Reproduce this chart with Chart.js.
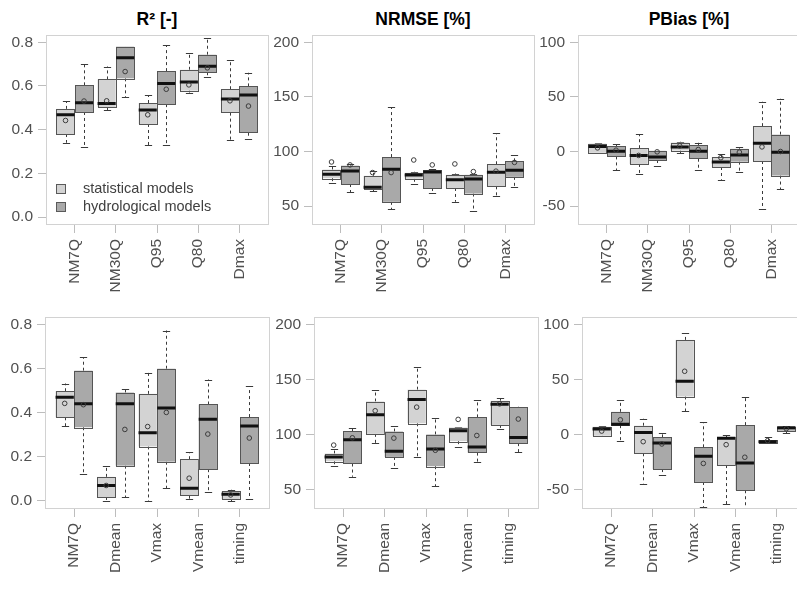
<!DOCTYPE html>
<html lang="en">
<head>
<meta charset="UTF-8" />
<title>Model performance - boxplots</title>
<script src="https://cdn.jsdelivr.net/npm/chart.js@4"></script>
<style>
  body {
    margin: 0;
    background: #ffffff;
    width: 797px;
    height: 596px;
    overflow: hidden;
    position: relative;
    font-family: "Liberation Sans", Arial, sans-serif;
  }
  .panel { position: absolute; }
  .title {
    position: absolute;
    width: 222px;
    text-align: center;
    font-weight: bold;
    font-size: 17.5px;
    color: #000;
  }
  .legend-row {
    position: absolute;
    font-size: 14.5px;
    color: #404040;
    white-space: nowrap;
  }
  .legend-row .sw {
    position: absolute;
    left: 0;
    top: 4px;
    width: 8px;
    height: 8px;
    border: 1px solid #5a5a5a;
  }
  .legend-row .txt { position: absolute; left: 27px; top: 0; }
</style>
</head>
<body>

<div class="title" style="left:46px; top:9px;">R² [-]</div>
<div class="title" style="left:312px; top:9px;">NRMSE [%]</div>
<div class="title" style="left:578px; top:9px;">PBias [%]</div>

<div id="panels"></div>

<script>
  // categories
  const topCategories = ["NM7Q", "NM30Q", "Q95", "Q80", "Dmax"];
  const bottomCategories = ["NM7Q", "Dmean", "Vmax", "Vmean", "timing"];
  const seriesNames = ["statistical models", "hydrological models"];

  // y tick labels
  const r2Ticks = [0.0, 0.2, 0.4, 0.6, 0.8];
  const nrmseTicks = [50, 100, 150, 200];
  const pbiasTicks = [-50, 0, 50, 100];

  // every box: [lower whisker, Q1, median, Q3, upper whisker]
  const r2TopStat = [[0.34, 0.38, 0.468, 0.495, 0.531], [0.489, 0.504, 0.52, 0.63, 0.689], [0.328, 0.426, 0.49, 0.522, 0.559], [0.57, 0.579, 0.618, 0.674, 0.749], [0.352, 0.478, 0.54, 0.585, 0.72]];
  const r2TopHydro = [[0.322, 0.481, 0.523, 0.603, 0.699], [0.55, 0.635, 0.729, 0.78, 0.78], [0.328, 0.517, 0.611, 0.668, 0.788], [0.639, 0.663, 0.69, 0.743, 0.82], [0.359, 0.386, 0.559, 0.598, 0.66]];
  const r2TopStatMean = [0.442, 0.532, 0.468, 0.605, 0.532];
  const r2TopHydroMean = [0.531, 0.666, 0.585, 0.683, 0.508];

  const nrmseTopStat = [[71, 75.6, 79.2, 83.4, 87], [63.6, 65.7, 67.2, 77.7, 82.2], [70.2, 75, 78.5, 80.5, 81.5], [53.9, 66.6, 74.1, 78.6, 79.8], [59.3, 68.1, 81, 88.3, 116.9]];
  const nrmseTopHydro = [[63, 70.2, 82.2, 87, 88.5], [47.3, 53.9, 83.7, 94.9, 140.4], [62, 66.6, 81.3, 82.8, 83.7], [45.5, 61.5, 74.7, 78.6, 79.2], [67.8, 76.8, 82.8, 91, 96.7]];
  const nrmseTopStatMean = [90.4, 80.7, 92.2, 88.6, 82];
  const nrmseTopHydroMean = [87.7, 80.7, 87.7, 81.6, 90];

  const pbiasTopStat = [[-1.2, -1.2, 4.5, 7.2, 7.5], [-20.5, -11.4, -3.6, 3, 16], [-1.8, 0.9, 4.2, 8.1, 9], [-25.9, -14.2, -9.6, -5.1, -2.4], [-52.4, -8.7, 7.5, 23.2, 45.5]];
  const pbiasTopHydro = [[-16.9, -4.5, 0.3, 4.8, 6.9], [-13.3, -7.8, -5.1, 0.6, 0.9], [-16.9, -6.6, 0.3, 5.7, 8.1], [-18.7, -9.3, -3.3, 2.4, 4.2], [-34.6, -22, -0.6, 15.4, 48.5]];
  const pbiasTopStatMean = [3.3, -3.6, 5.1, -5.7, 4.2];
  const pbiasTopHydroMean = [1.2, -0.3, 1.8, -0.6, 0];

  const r2BottomStat = [[0.339, 0.379, 0.47, 0.497, 0.532], [0, 0.018, 0.07, 0.109, 0.16], [0, 0.247, 0.309, 0.485, 0.581], [0.009, 0.024, 0.058, 0.189, 0.22], [0, 0.009, 0.03, 0.043, 0.051]];
  const r2BottomHydro = [[0.12, 0.334, 0.44, 0.59, 0.652], [0.018, 0.16, 0.44, 0.491, 0.509], [0.058, 0.178, 0.421, 0.599, 0.772], [0.04, 0.144, 0.37, 0.437, 0.55], [0.009, 0.172, 0.34, 0.38, 0.521]];
  const r2BottomStatMean = [0.442, 0.07, 0.337, 0.103, 0.027];
  const r2BottomHydroMean = [0.436, 0.324, 0.401, 0.303, 0.285];

  const nrmseBottomStat = [[71.8, 76, 79.9, 82.9, 86.7], [92.4, 100.8, 118.1, 130.1, 140.2], [79.9, 110.4, 131.9, 140.8, 161.7], [88.5, 94.2, 103.5, 106.5, 106.8], [105, 108.9, 127.7, 130.7, 133.1]];
  const nrmseBottomHydro = [[62, 73.9, 95.4, 103.2, 105.9], [69.4, 79.9, 85, 102.9, 107.7], [53.6, 71.5, 87, 100.2, 115.1], [75.4, 83.8, 88.8, 115.7, 131.3], [84.1, 92.4, 97.5, 124.7, 125.3]];
  const nrmseBottomStatMean = [90.6, 121.7, 125, 113.9, 128];
  const nrmseBottomHydroMean = [97.2, 96.9, 85.9, 99.3, 114.2];

  const pbiasBottomStat = [[-1.2, -0.9, 5.1, 7.2, 7.5], [-44.3, -16.8, 2.1, 8.1, 14.4], [21.3, 34.7, 48.5, 85.9, 91.9], [-62.9, -27.5, -3.3, -2.1, -0.3], [-7.8, -7.2, -6.3, -4.8, -2.4]];
  const pbiasBottomHydro = [[-6, 8.7, 9.6, 20.7, 31.1], [-36.8, -31.1, -7.5, -2.4, 1.2], [-65.3, -42.8, -19.5, -11.4, 11.1], [-70, -50.3, -25.7, 8.7, 34.4], [1.2, 3.6, 6.3, 7.2, 7.5]];
  const pbiasBottomStatMean = [3.3, -6.3, 57.5, -9, -5.4];
  const pbiasBottomHydroMean = [13.5, -8.4, -26, -20.4, 5.4];

  // look & layout
  const statColor = "#d3d3d3";
  const hydroColor = "#a9a9a9";
  const frameColor = "#d2d2d2";
  const textColor = "#505050";
  const font = { family: '"Liberation Sans", Arial, sans-serif', size: 15.5 };
  const boxOffset = 0.225, boxHalf = 0.22;
  const padL = 50, padT = 12, padR = 12, padB = 75;

  const panels = [
    { rect: [46, 33, 222, 191], cats: topCategories, ticks: r2Ticks, range: [-0.032, 0.832], dec: 1,
      stat: r2TopStat, hydro: r2TopHydro, statMean: r2TopStatMean, hydroMean: r2TopHydroMean },
    { rect: [312, 33, 222, 191], cats: topCategories, ticks: nrmseTicks, range: [33.6, 206.4], dec: 0,
      stat: nrmseTopStat, hydro: nrmseTopHydro, statMean: nrmseTopStatMean, hydroMean: nrmseTopHydroMean },
    { rect: [578, 33, 222, 191], cats: topCategories, ticks: pbiasTicks, range: [-66.4, 106.4], dec: 0,
      stat: pbiasTopStat, hydro: pbiasTopHydro, statMean: pbiasTopStatMean, hydroMean: pbiasTopHydroMean },
    { rect: [45, 315, 224, 193], cats: bottomCategories, ticks: r2Ticks, range: [-0.032, 0.832], dec: 1,
      stat: r2BottomStat, hydro: r2BottomHydro, statMean: r2BottomStatMean, hydroMean: r2BottomHydroMean },
    { rect: [314, 315, 224, 193], cats: bottomCategories, ticks: nrmseTicks, range: [33.6, 206.4], dec: 0,
      stat: nrmseBottomStat, hydro: nrmseBottomHydro, statMean: nrmseBottomStatMean, hydroMean: nrmseBottomHydroMean },
    { rect: [582, 315, 224, 193], cats: bottomCategories, ticks: pbiasTicks, range: [-66.4, 106.4], dec: 0,
      stat: pbiasBottomStat, hydro: pbiasBottomHydro, statMean: pbiasBottomStatMean, hydroMean: pbiasBottomHydroMean }
  ];

  // draws whiskers, boxes and medians through the chart's scales
  function boxPlugin(groups) {
    return {
      id: "boxes",
      beforeDatasetsDraw(chart) {
        const { ctx, chartArea: a, scales: { x, y } } = chart;
        const seg = (x1, y1, x2, y2) => { ctx.beginPath(); ctx.moveTo(x1, y1); ctx.lineTo(x2, y2); ctx.stroke(); };
        ctx.save();
        ctx.beginPath();
        ctx.rect(a.left, a.top, a.width, a.height);
        ctx.clip();
        groups.forEach(g => {
          g.stats.forEach((s, i) => {
            const c = i + 1 + g.offset;
            const xl = x.getPixelForValue(c - boxHalf);
            const xr = x.getPixelForValue(c + boxHalf);
            const xm = Math.round(x.getPixelForValue(c)) + 0.5;
            const [lo, q1, med, q3, hi] = s.map(v => y.getPixelForValue(v));
            const cap = (xr - xl) * 0.2;
            ctx.strokeStyle = "#3a3a3a";
            ctx.lineWidth = 1;
            ctx.setLineDash([3, 3]);
            seg(xm, q3, xm, hi);
            seg(xm, q1, xm, lo);
            ctx.setLineDash([]);
            seg(xm - cap, Math.round(hi) + 0.5, xm + cap, Math.round(hi) + 0.5);
            seg(xm - cap, Math.round(lo) + 0.5, xm + cap, Math.round(lo) + 0.5);
            ctx.fillStyle = g.color;
            ctx.fillRect(xl, q3, xr - xl, q1 - q3);
            ctx.strokeStyle = "#555555";
            ctx.strokeRect(Math.round(xl) + 0.5, Math.round(q3) + 0.5, Math.round(xr - xl), Math.round(q1 - q3));
            ctx.strokeStyle = "#111111";
            ctx.lineWidth = 3;
            seg(xl, med, xr, med);
          });
        });
        ctx.restore();
      }
    };
  }

  const framePlugin = {
    id: "frame",
    afterDraw(chart) {
      const { ctx, chartArea: a } = chart;
      ctx.save();
      ctx.strokeStyle = frameColor;
      ctx.lineWidth = 1;
      ctx.strokeRect(Math.round(a.left) + 0.5, Math.round(a.top) + 0.5, Math.round(a.width), Math.round(a.height));
      ctx.restore();
    }
  };

  const holder = document.getElementById("panels");

  panels.forEach(p => {
    const [L, T, W, H] = p.rect;
    const div = document.createElement("div");
    div.className = "panel";
    div.style.left = (L - padL) + "px";
    div.style.top = (T - padT) + "px";
    const canvas = document.createElement("canvas");
    canvas.width = padL + W + padR;
    canvas.height = padT + H + padB;
    canvas.style.width = canvas.width + "px";
    canvas.style.height = canvas.height + "px";
    div.appendChild(canvas);
    holder.appendChild(div);

    const groups = [
      { stats: p.stat, offset: -boxOffset, color: statColor },
      { stats: p.hydro, offset: boxOffset, color: hydroColor }
    ];
    const meanPoints = (means, off) => means.map((m, i) => ({ x: i + 1 + off, y: m }));

    new Chart(canvas.getContext("2d"), {
      type: "scatter",
      data: {
        datasets: [
          { label: seriesNames[0], data: meanPoints(p.statMean, -boxOffset) },
          { label: seriesNames[1], data: meanPoints(p.hydroMean, boxOffset) }
        ].map(d => Object.assign(d, {
          pointStyle: "circle",
          pointRadius: 2.3,
          pointBorderWidth: 1,
          pointBorderColor: "#3c3c3c",
          pointBackgroundColor: "rgba(0,0,0,0)"
        }))
      },
      options: {
        responsive: false,
        animation: false,
        events: [],
        layout: { padding: { top: padT, right: padR, left: 0, bottom: 0 } },
        plugins: { legend: { display: false }, tooltip: { enabled: false }, title: { display: false } },
        scales: {
          x: {
            type: "linear",
            min: 0.3,
            max: 5.7,
            afterBuildTicks: s => { s.ticks = p.cats.map((c, i) => ({ value: i + 1 })); },
            afterFit: s => { s.height = padB; },
            ticks: {
              callback: v => p.cats[Math.round(v) - 1],
              autoSkip: false,
              minRotation: 90,
              maxRotation: 90,
              padding: 6,
              color: textColor,
              font: font
            },
            grid: { drawOnChartArea: false, drawTicks: true, tickLength: 9, color: "#bdbdbd" },
            border: { display: false }
          },
          y: {
            type: "linear",
            min: p.range[0],
            max: p.range[1],
            afterBuildTicks: s => { s.ticks = p.ticks.map(v => ({ value: v })); },
            afterFit: s => { s.width = padL; },
            ticks: {
              callback: v => v.toFixed(p.dec),
              padding: 5,
              color: textColor,
              font: font
            },
            grid: { drawOnChartArea: false, drawTicks: true, tickLength: 8, color: "#bdbdbd" },
            border: { display: false }
          }
        }
      },
      plugins: [boxPlugin(groups), framePlugin]
    });
  });

  // legend inside the first panel
  [statColor, hydroColor].forEach((col, i) => {
    const row = document.createElement("div");
    row.className = "legend-row";
    row.style.left = "56px";
    row.style.top = (180 + i * 17.5) + "px";
    row.innerHTML = '<span class="sw" style="background:' + col + '"></span><span class="txt">' + seriesNames[i] + '</span>';
    document.body.appendChild(row);
  });
</script>
</body>
</html>
